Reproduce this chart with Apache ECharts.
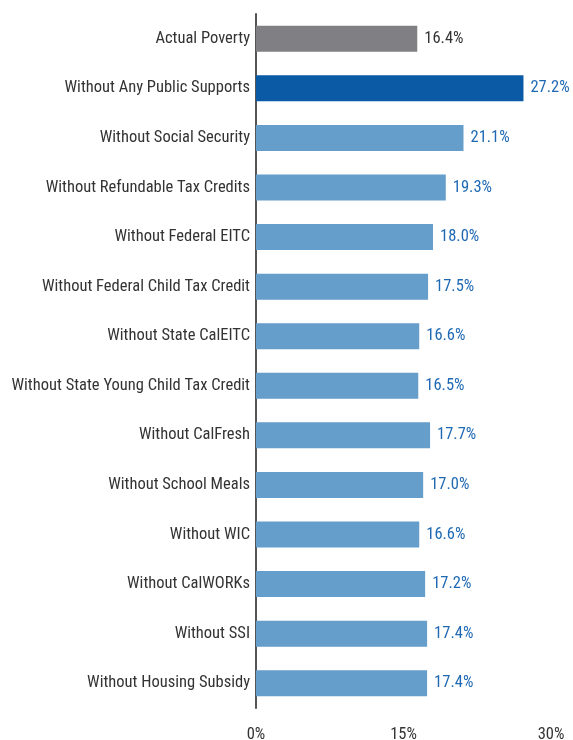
<!DOCTYPE html>
<html><head><meta charset="utf-8">
<script src="https://cdn.jsdelivr.net/npm/echarts@6/dist/echarts.min.js"></script>
<style>html,body{margin:0;padding:0;background:#fff}#c{width:573px;height:740px}</style>
</head><body><div id="c"></div>
<script>
const categories = ["Actual Poverty","Without Any Public Supports","Without Social Security","Without Refundable Tax Credits","Without Federal EITC","Without Federal Child Tax Credit","Without State CalEITC","Without State Young Child Tax Credit","Without CalFresh","Without School Meals","Without WIC","Without CalWORKs","Without SSI","Without Housing Subsidy"];
const values = [16.4,27.2,21.1,19.3,18.0,17.5,16.6,16.5,17.7,17.0,16.6,17.2,17.4,17.4];
const barColors = ["#808084","#0a5aa5","#659dcb"];
const FONT = '"Roboto Condensed","DejaVu Sans Condensed",sans-serif';
const data = values.map((v,i)=>({
  value:v,
  itemStyle:{color: i===0?barColors[0]:(i===1?barColors[1]:barColors[2])},
  label:{color: i===0?'#333':'#1f69b3'}
}));
const chart = echarts.init(document.getElementById('c'));
chart.setOption({
  animation:false,
  grid:{left:256,top:14,width:295,height:694,containLabel:false,outerBoundsMode:'none'},
  xAxis:{type:'value',min:0,max:30,interval:15,
    axisLine:{show:false},axisTick:{show:false},splitLine:{show:false},
    axisLabel:{formatter:'{value}%',fontFamily:FONT,fontSize:16.5,color:'#333',margin:18}},
  yAxis:{type:'category',data:categories,inverse:true,
    axisLine:{show:true,lineStyle:{color:'#555',width:2}},axisTick:{show:false},
    axisLabel:{fontFamily:FONT,fontSize:16.5,color:'#333',margin:6}},
  series:[{type:'bar',data:data,barWidth:26,
    label:{show:true,position:'right',distance:7,formatter:p=>p.value.toFixed(1)+'%',fontFamily:FONT,fontSize:16.5}}]
});
</script></body></html>
